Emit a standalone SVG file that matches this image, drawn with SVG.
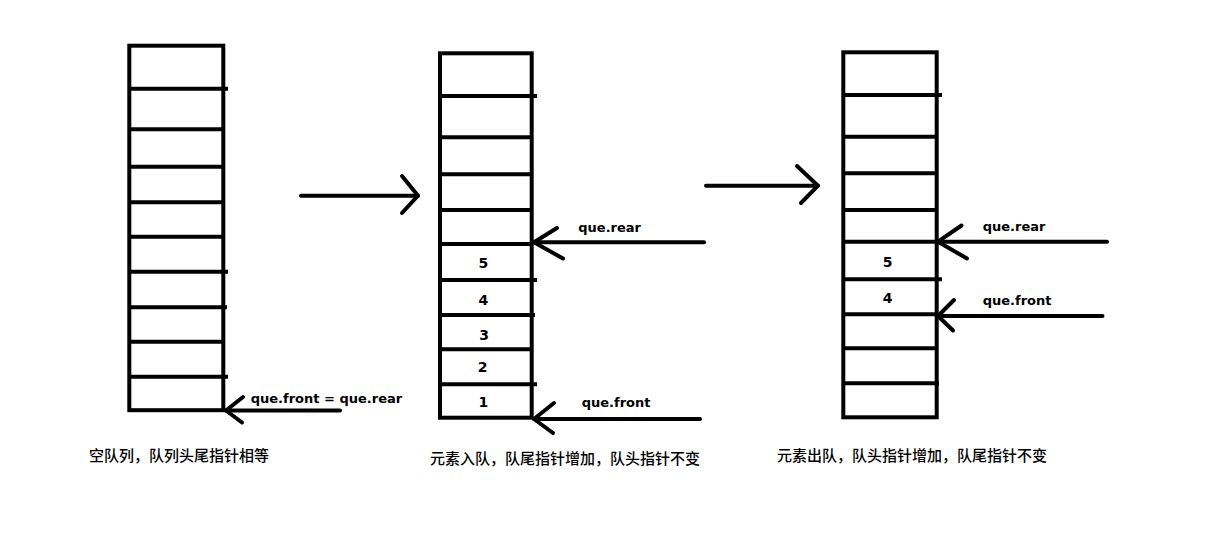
<svg xmlns="http://www.w3.org/2000/svg" width="1224" height="556" viewBox="0 0 1224 556">
<style>
.box{fill:none;stroke:#000;stroke-width:4}
.ln{stroke:#000;stroke-width:4}
.arr{fill:none;stroke:#000;stroke-width:4;stroke-linecap:round;stroke-linejoin:round}
.lbl{font-family:"DejaVu Sans",Verdana,sans-serif;font-weight:bold;font-size:13px;fill:#000}
.num{font-family:"DejaVu Sans",Verdana,sans-serif;font-weight:bold;font-size:14px;fill:#000;text-anchor:middle}
.cap{font-family:"Noto Sans CJK SC","Microsoft YaHei",sans-serif;font-size:15px;font-weight:500;fill:#000}
</style>
<rect width="1224" height="556" fill="#fff"/>
<g id="queue-empty">
<rect class="box" x="129.3" y="45.7" width="94" height="364.5"/>
<line class="ln" x1="129.3" y1="88.7" x2="228" y2="88.7"/>
<line class="ln" x1="129.3" y1="129.3" x2="223.3" y2="129.3"/>
<line class="ln" x1="129.3" y1="166.7" x2="223.3" y2="166.7"/>
<line class="ln" x1="129.3" y1="202.3" x2="223.3" y2="202.3"/>
<line class="ln" x1="129.3" y1="236.7" x2="223.3" y2="236.7"/>
<line class="ln" x1="129.3" y1="271.7" x2="228" y2="271.7"/>
<line class="ln" x1="129.3" y1="307.3" x2="227" y2="307.3"/>
<line class="ln" x1="129.3" y1="341.7" x2="223.3" y2="341.7"/>
<line class="ln" x1="129.3" y1="376.7" x2="228" y2="376.7"/>
<text class="cap" x="89" y="460.5">空队列，队列头尾指针相等</text>
</g>
<g id="queue-enqueue">
<rect class="box" x="440" y="53.3" width="91.7" height="364.4"/>
<line class="ln" x1="440" y1="96" x2="537" y2="96"/>
<line class="ln" x1="440" y1="137.3" x2="531.7" y2="137.3"/>
<line class="ln" x1="440" y1="174.3" x2="531.7" y2="174.3"/>
<line class="ln" x1="440" y1="210" x2="531.7" y2="210"/>
<line class="ln" x1="440" y1="244" x2="531.7" y2="244"/>
<line class="ln" x1="440" y1="280" x2="537" y2="280"/>
<line class="ln" x1="440" y1="315" x2="535" y2="315"/>
<line class="ln" x1="440" y1="349.3" x2="531.7" y2="349.3"/>
<line class="ln" x1="440" y1="384.3" x2="537" y2="384.3"/>
<text class="num" x="483.3" y="268.3">5</text>
<text class="num" x="483.3" y="305">4</text>
<text class="num" x="484" y="340">3</text>
<text class="num" x="482.5" y="371.7">2</text>
<text class="num" x="483.3" y="406.7">1</text>
<text class="cap" x="430" y="464">元素入队，队尾指针增加，队头指针不变</text>
</g>
<g id="queue-dequeue">
<rect class="box" x="843.3" y="52.3" width="93.4" height="365"/>
<line class="ln" x1="843.3" y1="95" x2="942" y2="95"/>
<line class="ln" x1="843.3" y1="136.7" x2="936.7" y2="136.7"/>
<line class="ln" x1="843.3" y1="173.3" x2="936.7" y2="173.3"/>
<line class="ln" x1="843.3" y1="210" x2="936.7" y2="210"/>
<line class="ln" x1="843.3" y1="241.7" x2="936.7" y2="241.7"/>
<line class="ln" x1="843.3" y1="279.3" x2="942" y2="279.3"/>
<line class="ln" x1="843.3" y1="314.3" x2="936.7" y2="314.3"/>
<line class="ln" x1="843.3" y1="348.3" x2="936.7" y2="348.3"/>
<line class="ln" x1="843.3" y1="383.3" x2="939" y2="383.3"/>
<text class="num" x="887.7" y="266.7">5</text>
<text class="num" x="887.7" y="303.3">4</text>
<text class="cap" x="777" y="460.5">元素出队，队头指针增加，队尾指针不变</text>
</g>
<g id="pointer-labels">
<text class="lbl" x="250.7" y="402.7">que.front = que.rear</text>
<text class="lbl" x="578.3" y="231.7">que.rear</text>
<text class="lbl" x="581.7" y="406.7">que.front</text>
<text class="lbl" x="982.7" y="230.7">que.rear</text>
<text class="lbl" x="982.7" y="305">que.front</text>
</g>
<g id="connectors">
<line class="arr" x1="301" y1="195.7" x2="418" y2="195.7"/>
<polyline class="arr" points="402,176 418,195.7 402,213"/>
<line class="arr" x1="706" y1="185.7" x2="818" y2="185.7"/>
<polyline class="arr" points="797,166 818,185.7 801,203"/>
<line class="arr" x1="226" y1="410.5" x2="340" y2="410.5"/>
<polyline class="arr" points="243,397 226,410.5 242,422.5"/>
<line class="arr" x1="534" y1="242.3" x2="704" y2="242.3"/>
<polyline class="arr" points="557,228 534,242.3 563,258.5"/>
<line class="arr" x1="534" y1="419" x2="700" y2="419"/>
<polyline class="arr" points="554,403 534,419 553,433"/>
<line class="arr" x1="938" y1="241.7" x2="1107" y2="241.7"/>
<polyline class="arr" points="961.5,225.5 938,241.7 967,258.5"/>
<line class="arr" x1="938" y1="316" x2="1102.5" y2="316"/>
<polyline class="arr" points="954,300 938,316 953,330.5"/>
</g>
</svg>
